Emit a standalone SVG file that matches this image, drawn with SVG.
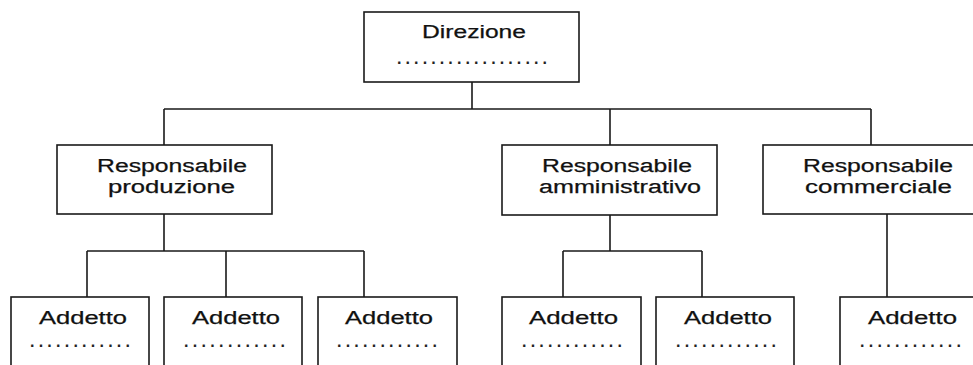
<svg xmlns="http://www.w3.org/2000/svg" width="973" height="365" viewBox="0 0 973 365">
<style>
.box{fill:#fff;stroke:#1a1a1a;stroke-width:1.6}
.con{fill:none;stroke:#1a1a1a;stroke-width:1.6}
.t{font-family:"Liberation Sans",Arial,sans-serif;font-size:18px;fill:#111;stroke:#111;stroke-width:0.25}
.d{font-family:"Liberation Sans",sans-serif;font-size:16px;font-weight:bold;fill:#222}
</style>
<rect width="973" height="365" fill="#fff"/>
<g id="connectors" class="con">
<path d="M472 82V109M164 109H871M164 109V145M610 109V145M871 109V145"/>
<path d="M164 214V251M87 251H364M87 251V297M226 251V297M364 251V297"/>
<path d="M610 215V251M563 251H702M563 251V297M702 251V297"/>
<path d="M887 214V297"/>
</g>
<g id="direzione">
<rect class="box" x="364" y="12" width="215" height="70"/>
<text class="t" x="422" y="38" textLength="104" lengthAdjust="spacingAndGlyphs">Direzione</text>
<text class="d" x="397" y="64" textLength="150" lengthAdjust="spacing">..................</text>
</g>
<g id="resp-produzione">
<rect class="box" x="57" y="145" width="215" height="69"/>
<text class="t" x="97" y="172" textLength="150" lengthAdjust="spacingAndGlyphs">Responsabile</text>
<text class="t" x="108" y="193" textLength="127" lengthAdjust="spacingAndGlyphs">produzione</text>
</g>
<g id="resp-amministrativo">
<rect class="box" x="502" y="145" width="215" height="70"/>
<text class="t" x="542" y="172" textLength="150" lengthAdjust="spacingAndGlyphs">Responsabile</text>
<text class="t" x="539" y="193" textLength="162" lengthAdjust="spacingAndGlyphs">amministrativo</text>
</g>
<g id="resp-commerciale">
<rect class="box" x="763" y="145" width="260" height="69"/>
<text class="t" x="803" y="172" textLength="150" lengthAdjust="spacingAndGlyphs">Responsabile</text>
<text class="t" x="805" y="193" textLength="147" lengthAdjust="spacingAndGlyphs">commerciale</text>
</g>
<g id="addetto-1">
<rect class="box" x="11" y="297" width="138" height="100"/>
<text class="t" x="39" y="324" textLength="88" lengthAdjust="spacingAndGlyphs">Addetto</text>
<text class="d" x="30" y="347" textLength="100" lengthAdjust="spacing">............</text>
</g>
<g id="addetto-2">
<rect class="box" x="164" y="297" width="138" height="100"/>
<text class="t" x="192" y="324" textLength="88" lengthAdjust="spacingAndGlyphs">Addetto</text>
<text class="d" x="184" y="347" textLength="101" lengthAdjust="spacing">............</text>
</g>
<g id="addetto-3">
<rect class="box" x="318" y="297" width="139" height="100"/>
<text class="t" x="345" y="324" textLength="88" lengthAdjust="spacingAndGlyphs">Addetto</text>
<text class="d" x="337" y="347" textLength="100" lengthAdjust="spacing">............</text>
</g>
<g id="addetto-4">
<rect class="box" x="502" y="297" width="139" height="100"/>
<text class="t" x="529" y="324" textLength="89" lengthAdjust="spacingAndGlyphs">Addetto</text>
<text class="d" x="522" y="347" textLength="100" lengthAdjust="spacing">............</text>
</g>
<g id="addetto-5">
<rect class="box" x="656" y="297" width="138" height="100"/>
<text class="t" x="684" y="324" textLength="88" lengthAdjust="spacingAndGlyphs">Addetto</text>
<text class="d" x="676" y="347" textLength="100" lengthAdjust="spacing">............</text>
</g>
<g id="addetto-6">
<rect class="box" x="840" y="297" width="160" height="100"/>
<text class="t" x="868" y="324" textLength="89" lengthAdjust="spacingAndGlyphs">Addetto</text>
<text class="d" x="860" y="347" textLength="101" lengthAdjust="spacing">............</text>
</g>
</svg>
